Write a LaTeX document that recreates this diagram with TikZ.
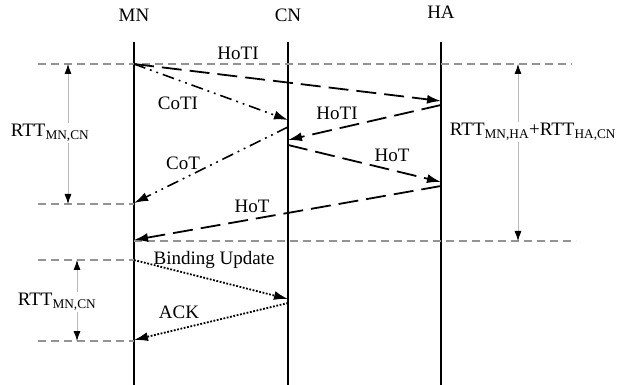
\documentclass[tikz,border=0pt]{standalone}
\usepackage{fontspec}
\setmainfont{Liberation Serif}
\usetikzlibrary{arrows.meta}

\tikzset{
  lifeline/.style={line width=2.8pt},
  guide/.style={gray!85,line width=1.3pt,dash pattern=on 8pt off 5pt},
  tip/.style={-{Latex[length=14pt,width=9pt]}},
  homemsg/.style={tip,line width=1.8pt,dash pattern=on 20pt off 8pt},
  caremsg/.style={tip,line width=1.6pt,dash pattern=on 12pt off 5pt on 1.8pt off 5pt on 1.8pt off 5pt},
  bindmsg/.style={tip,line width=1.8pt,dash pattern=on 1.8pt off 1.6pt},
  rtt/.style={gray!55,line width=0.8pt,{Latex[black,length=10pt,width=7pt]}-{Latex[black,length=10pt,width=7pt]}},
  lbl/.style={font=\fontsize{19}{21}\selectfont,inner sep=1pt}
}

\begin{document}
\begin{tikzpicture}[x=1pt,y=-1pt]
  \useasboundingbox (0,0) rectangle (630,385);

  % hosts
  \node[lbl] (mn) at (134,15) {MN};
  \node[lbl] (cn) at (288,15) {CN};
  \node[lbl] (ha) at (441,12) {HA};
  \draw[lifeline] (134,42) -- (134,385);
  \draw[lifeline] (288,42) -- (288,385);
  \draw[lifeline] (441,42) -- (441,385);

  % points on the lifelines
  \coordinate (mn0) at (134,64);
  \coordinate (mn1) at (134,203);
  \coordinate (mn2) at (134,240);
  \coordinate (mn3) at (134,260);
  \coordinate (mn4) at (134,340);
  \coordinate (cn1) at (288,120);
  \coordinate (cn2) at (288,127);
  \coordinate (cn3) at (288,140);
  \coordinate (cn4) at (288,145);
  \coordinate (cn5) at (288,299);
  \coordinate (cn6) at (288,303);
  \coordinate (ha1) at (441,101);
  \coordinate (ha2) at (441,105);
  \coordinate (ha3) at (441,182);
  \coordinate (ha4) at (441,186);

  % guides
  \draw[guide] (38,64) -- (572,64);
  \draw[guide] (38,204) -- (134,204);
  \draw[guide] (134,241) -- (576,241);
  \draw[guide] (38,260) -- (mn3);
  \draw[guide] (38,341) -- (134,341);

  % messages
  \draw[homemsg] (mn0) -- (ha1);
  \draw[caremsg] (mn0) -- (cn1);
  \draw[homemsg] (ha2) -- (cn3);
  \draw[caremsg] (cn2) -- (mn1);
  \draw[homemsg] (cn4) -- (ha3);
  \draw[homemsg] (ha4) -- (mn2);
  \draw[bindmsg] (mn3) -- (cn5);
  \draw[bindmsg] (cn6) -- (mn4);

  \node[lbl] (hoti1) at (238,53) {HoTI};
  \node[lbl] (coti) at (178,103) {CoTI};
  \node[lbl] (hoti2) at (337,113) {HoTI};
  \node[lbl] (cot) at (183,163) {CoT};
  \node[lbl] (hot1) at (392,155) {HoT};
  \node[lbl] (hot2) at (252,206) {HoT};
  \node[lbl] (bu) at (214,260) {Binding Update};
  \node[lbl] (ack) at (179,312) {ACK};

  % round trip times
  \draw[rtt] (68,64) -- (68,204);
  \node[lbl,fill=white] (rtt1) at (50,133) {RTT\textsubscript{MN,CN}};
  \draw[rtt] (77,260) -- (77,341);
  \node[lbl,fill=white] (rtt2) at (57,302) {RTT\textsubscript{MN,CN}};
  \draw[rtt] (518,64) -- (518,241);
  \node[lbl,fill=white] (rtt3) at (533,132) {RTT\textsubscript{MN,HA}+RTT\textsubscript{HA,CN}};
\end{tikzpicture}
\end{document}
